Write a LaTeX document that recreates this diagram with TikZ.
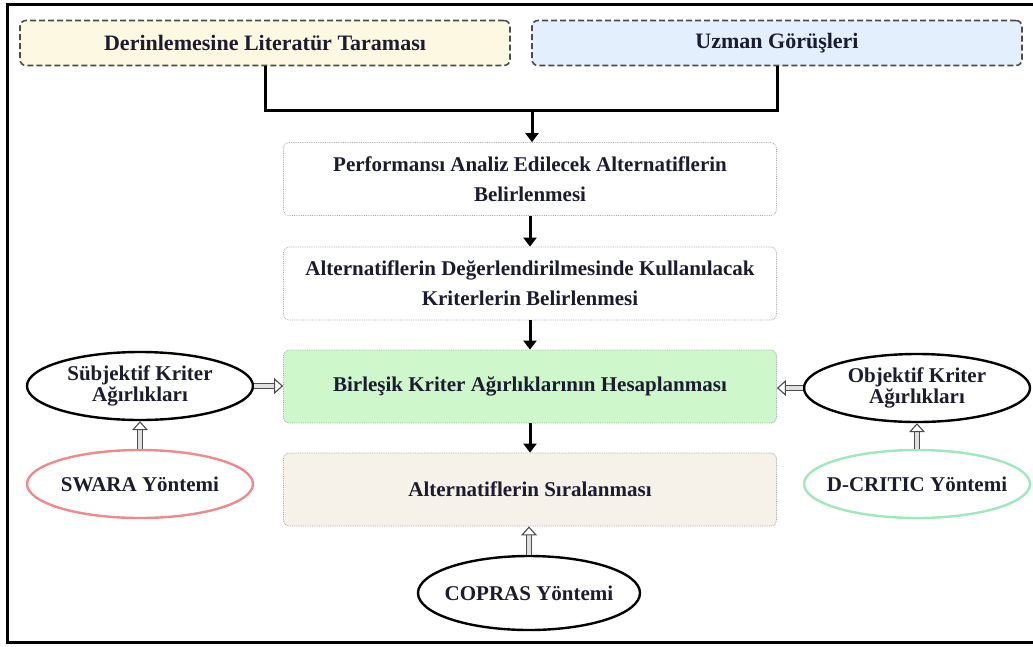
\documentclass[tikz,border=0pt]{standalone}
\usepackage{fontspec}
\setmainfont{Liberation Serif}
\usetikzlibrary{arrows.meta,shapes.geometric}
\definecolor{txt}{HTML}{1C1C30}
\definecolor{yel}{HTML}{FDF8E2}
\definecolor{blu}{HTML}{E3EFFC}
\definecolor{grn}{HTML}{CFF7CC}
\definecolor{bei}{HTML}{F6F1E9}
\definecolor{pinkc}{HTML}{F08A8A}
\definecolor{mint}{HTML}{9EE8BC}
\tikzset{
  topbox/.style={draw=black!70, dashed, dash pattern=on 6pt off 3pt, line width=1.6pt, rounded corners=6pt,
    minimum width=490pt, minimum height=45pt, font=\fontsize{22}{24}\selectfont\bfseries, text=txt},
  midbox/.style={draw=black!35, densely dotted, line width=0.8pt, rounded corners=6pt,
    minimum width=493pt, minimum height=73pt, align=center, font=\fontsize{21}{30}\selectfont\bfseries, text=txt},
  oval/.style={ellipse, draw=black, line width=2.4pt, minimum width=226pt, minimum height=68pt, inner sep=0pt},
  ovaltext/.style={align=center, font=\fontsize{21}{21}\selectfont\bfseries, text=txt, inner sep=0pt},
  flow/.style={line width=3pt, -{Triangle[length=9pt,width=13pt]}},
  link/.style={line width=3pt},
  hollow/.style={double=black!12, double distance=4pt, line width=1.1pt, draw=black!70,
    -{Triangle[open,length=9pt,width=16pt,line width=1.1pt]}},
}
\begin{document}
\begin{tikzpicture}[x=1pt,y=-1pt]
\useasboundingbox (0,0) rectangle (1033,646);
% frame
\draw[line width=3pt] (1033,4) -- (7,4) -- (7,642) -- (1033,642);
% top boxes
\node[topbox, fill=yel] (lit) at (265,43) {Derinlemesine Literatür Taraması};
\node[topbox, fill=blu] (uzm) at (777,43) {Uzman Görüşleri};
% middle boxes
\node[midbox, fill=white] (perf) at (530,179) {Performansı Analiz Edilecek Alternatiflerin\\Belirlenmesi};
\node[midbox, fill=white] (krit) at (530,283.5) {Alternatiflerin Değerlendirilmesinde Kullanılacak\\Kriterlerin Belirlenmesi};
\node[midbox, fill=grn] (bir) at (530,386.5) {Birleşik Kriter Ağırlıklarının Hesaplanması};
\node[midbox, fill=bei] (sir) at (530,489.5) {Alternatiflerin Sıralanması};
% ellipses
\node[oval, label={[ovaltext]center:Sübjektif Kriter\\Ağırlıkları}] (sub) at (140,386) {};
\node[oval, draw=pinkc, label={[ovaltext]center:SWARA Yöntemi}] (swa) at (140,484) {};
\node[oval, label={[ovaltext]center:Objektif Kriter\\Ağırlıkları}] (obj) at (917,388) {};
\node[oval, draw=mint, label={[ovaltext]center:D-CRITIC Yöntemi}] (dcr) at (917,484) {};
\node[oval, minimum width=222pt, minimum height=74pt, label={[ovaltext]center:COPRAS Yöntemi}] (cop) at (529,593) {};
% connectors
\coordinate (j) at (532,110);
\draw[link] (lit.south) |- (j) -| (uzm.south);
\draw[flow] (j) -- (perf.north -| j);
\draw[flow] (perf.south) -- (krit.north);
\draw[flow] (krit.south) -- (bir.north);
\draw[flow] (bir.south) -- (sir.north);
\draw[hollow] (sub.east) -- (bir.west |- sub.east);
\draw[hollow] (obj.west) -- (bir.east |- obj.west);
\draw[hollow] (swa.north) -- (sub.south);
\draw[hollow] (dcr.north) -- (obj.south);
\draw[hollow] (cop.north) -- (sir.south -| cop.north);
\end{tikzpicture}
\end{document}
